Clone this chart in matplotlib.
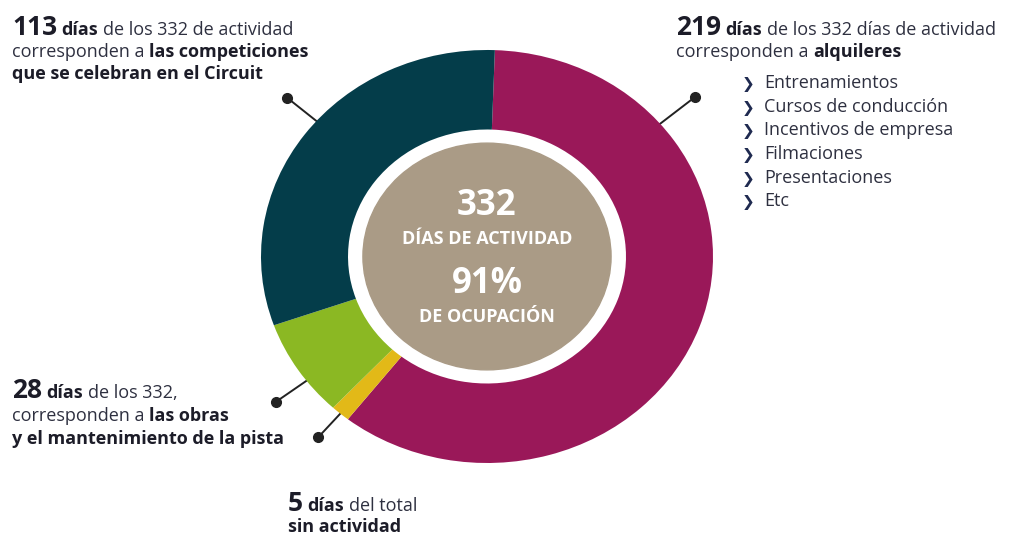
import matplotlib
matplotlib.use("agg")
import matplotlib.pyplot as plt
from matplotlib.patches import Circle
import numpy as np

plt.rcParams['font.family'] = ['Open Sans', 'DejaVu Sans']

# días del año por tipo de uso del circuito
categorias = ['alquileres', 'sin actividad', 'obras y mantenimiento', 'competiciones']
dias = [219, 5, 28, 113]
colores = ['#9a1859', '#e2b918', '#8bb823', '#043d4a']
dias_actividad = 332
ocupacion = 91
alquileres = ['Entrenamientos', 'Cursos de conducción', 'Incentivos de empresa',
              'Filmaciones', 'Presentaciones', 'Etc']

TXT = '#2e3040'
NEGRO = '#1c1c28'

fig = plt.figure(figsize=(10.24, 5.35), dpi=100)
fig.patch.set_facecolor('white')

# anillo (ligeramente ovalado)
pie_ax = fig.add_axes([261 / 1024, 72 / 535, 452 / 1024, 413 / 535])
wedges, _ = pie_ax.pie(dias, colors=colores, startangle=88, counterclock=False,
                       radius=1, wedgeprops=dict(width=0.385, linewidth=0))
pie_ax.set_aspect('auto')
pie_ax.set_xlim(-1, 1)
pie_ax.set_ylim(-1, 1)
pie_ax.add_patch(Circle((0, 0), 0.549, color='#aa9b86', zorder=3))

# líneas con punto hacia cada texto
def mid(w):
    return (w.theta1 + w.theta2) / 2

guias = [(40, 1.20), (mid(wedges[1]), 1.15), (-143, 1.17), (139, 1.17)]
for ang, r in guias:
    a = np.deg2rad(ang)
    pie_ax.plot([0.9 * np.cos(a), r * np.cos(a)], [0.9 * np.sin(a), r * np.sin(a)],
                color='#222222', lw=1.4, zorder=0, clip_on=False)
    pie_ax.plot(r * np.cos(a), r * np.sin(a), 'o', color='#222222', ms=7,
                zorder=0, clip_on=False)

# capa de textos en coordenadas de píxel
ax = fig.add_axes([0, 0, 1, 1], zorder=5)
ax.set_xlim(0, 1024)
ax.set_ylim(535, 0)
ax.axis('off')
ax.patch.set_alpha(0)

renderer = fig.canvas.get_renderer()


def ancho(s, size, weight):
    t = ax.text(0, 0, s, fontsize=size, fontweight=weight)
    w = t.get_window_extent(renderer=renderer).width
    t.remove()
    return w


def linea(x, y, partes):
    for s, size, weight, color in partes:
        if s.startswith(' '):
            x += ancho('a a', size, weight) - ancho('aa', size, weight)
            s = s[1:]
        t = ax.text(x, y, s, fontsize=size, fontweight=weight, color=color,
                    ha='left', va='baseline')
        x += t.get_window_extent(renderer=renderer).width


B = 13
N = 19
linea(12, 35, [(str(dias[3]), N, 'bold', NEGRO), (' días', B, 'bold', NEGRO),
               (f' de los {dias_actividad} de actividad', B, 'normal', TXT)])
linea(12, 57, [('corresponden a', B, 'normal', TXT), (' las competiciones', B, 'bold', NEGRO)])
linea(12, 79, [('que se celebran en el Circuit', B, 'bold', NEGRO)])

linea(676, 35, [(str(dias[0]), N, 'bold', NEGRO), (' días', B, 'bold', NEGRO),
                (f' de los {dias_actividad} días de actividad', B, 'normal', TXT)])
linea(676, 57, [('corresponden a', B, 'normal', TXT), (' alquileres', B, 'bold', NEGRO)])
for i, item in enumerate(alquileres):
    y = 88 + i * 23.7
    ax.text(742, y, '❯', fontsize=11, fontweight='bold', color='#1f2a50',
            family='DejaVu Sans', va='baseline')
    ax.text(764, y, item, fontsize=B, color=TXT, va='baseline')

linea(12, 398, [(str(dias[2]), N, 'bold', NEGRO), (' días', B, 'bold', NEGRO),
                (f' de los {dias_actividad},', B, 'normal', TXT)])
linea(12, 421, [('corresponden a', B, 'normal', TXT), (' las obras', B, 'bold', NEGRO)])
linea(12, 444, [('y el mantenimiento de la pista', B, 'bold', NEGRO)])

linea(288, 511, [(str(dias[1]), N, 'bold', NEGRO), (' días', B, 'bold', NEGRO),
                 (' del total', B, 'normal', TXT)])
linea(288, 532, [('sin actividad', B, 'bold', NEGRO)])

# texto central
cx = 487
ax.text(cx, 215, str(dias_actividad), fontsize=25, fontweight='bold', color='white',
        ha='center', va='baseline')
ax.text(cx, 244, 'DÍAS DE ACTIVIDAD', fontsize=13, fontweight='bold', color='white',
        ha='center', va='baseline')
ax.text(cx, 293, f'{ocupacion}%', fontsize=25, fontweight='bold', color='white',
        ha='center', va='baseline')
ax.text(cx, 322, 'DE OCUPACIÓN', fontsize=13, fontweight='bold', color='white',
        ha='center', va='baseline')

fig.savefig('out.png', dpi=100)
